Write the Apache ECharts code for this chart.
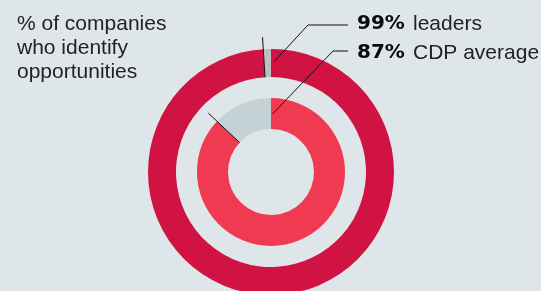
<!DOCTYPE html>
<html>
<head>
<meta charset="utf-8">
<script src="https://cdn.jsdelivr.net/npm/echarts@6/dist/echarts.min.js"></script>
<style>
    html, body { margin: 0; padding: 0; background: #dfe6e9; }
    #chart { width: 541px; height: 291px; }
</style>
</head>
<body>
<div id="chart"></div>
<script>
// data
var groups = ['leaders', 'CDP average'];
var identified = [99, 87];
var titleLines = ['% of companies', 'who identify', 'opportunities'];

var CX = 271, CY = 172;
var rings = [[95, 123], [43, 74]];
var ringColors = [['#d01343', '#bdbfc0'], ['#f03a51', '#c4d2d5']];

/**
 * point on a circle, angle in percent clockwise from 12 o'clock
 */
function polar(pct, r) {
    var a = pct / 100 * Math.PI * 2;
    return [CX + r * Math.sin(a), CY - r * Math.cos(a)];
}

var myChart = echarts.init(document.getElementById('chart'), null, {renderer: 'canvas'});

var series = identified.map(function (v, i) {
    return {
        type: 'pie',
        silent: true,
        center: [CX, CY],
        radius: rings[i],
        startAngle: 90,
        clockwise: true,
        label: {show: false},
        labelLine: {show: false},
        itemStyle: {borderWidth: 0},
        data: [
            {value: v, itemStyle: {color: ringColors[i][0]}},
            {value: 100 - v, itemStyle: {color: ringColors[i][1]}}
        ]
    };
});

var graphics = [];
// title on the left
titleLines.forEach(function (t, i) {
    graphics.push({
        type: 'text', x: 17, y: 24 + i * 24, z: 100,
        style: {text: t, font: '21px "Liberation Sans", Arial, sans-serif', fill: '#222', verticalAlign: 'middle'}
    });
});
// legend style labels on the right
var labelY = [24, 53];
identified.forEach(function (v, i) {
    graphics.push({
        type: 'text', x: 357, y: labelY[i], z: 100,
        style: {text: v + '%', font: 'bold 20px "DejaVu Sans", sans-serif', fill: '#0a0a0a', verticalAlign: 'middle'}
    });
    graphics.push({
        type: 'text', x: 413, y: labelY[i], z: 100,
        style: {text: groups[i], font: '21px "Liberation Sans", Arial, sans-serif', fill: '#222', verticalAlign: 'middle'}
    });
});
// leader lines
graphics.push({
    type: 'polyline', z: 100,
    shape: {points: [[348, 25], [308, 25], polar(0.4, 110)]},
    style: {stroke: '#111', lineWidth: 1, fill: null}
});
graphics.push({
    type: 'polyline', z: 100,
    shape: {points: [[348, 51], [333, 51], polar(0.4, 58)]},
    style: {stroke: '#111', lineWidth: 1, fill: null}
});
// ticks at the start of each gap
var tickR = [[95, 135], [43, 86]];
identified.forEach(function (v, i) {
    var p1 = polar(v, tickR[i][0]), p2 = polar(v, tickR[i][1]);
    graphics.push({
        type: 'line', z: 100,
        shape: {x1: p1[0], y1: p1[1], x2: p2[0], y2: p2[1]},
        style: {stroke: '#111', lineWidth: 1}
    });
});

var option = {
    backgroundColor: '#dfe6e9',
    animation: false,
    series: series,
    graphic: graphics
};
myChart.setOption(option, true);
</script>
</body>
</html>
